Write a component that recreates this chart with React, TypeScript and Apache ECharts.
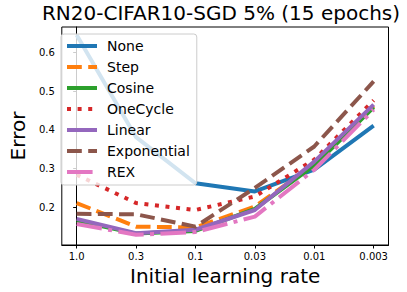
import React, { useEffect, useRef } from "react";
import * as echarts from "echarts";

const lrLabels = ["1.0", "0.3", "0.1", "0.03", "0.01", "0.003"];
const yTicks = [0.2, 0.3, 0.4, 0.5, 0.6];

const noneVals = [0.645, 0.381, 0.262, 0.241, 0.297, 0.411];
const stepVals = [0.211, 0.150, 0.148, 0.202, 0.310, 0.462];
const cosineVals = [0.165, 0.132, 0.139, 0.196, 0.308, 0.458];
const oneCycleVals = [0.284, 0.211, 0.193, 0.228, 0.323, 0.476];
const linearVals = [0.170, 0.133, 0.142, 0.193, 0.318, 0.465];
const exponentialVals = [0.183, 0.182, 0.150, 0.250, 0.357, 0.525];
const rexVals = [0.157, 0.129, 0.136, 0.176, 0.297, 0.452];

const seriesDefs = [
  { name: "None", data: noneVals, color: "#1f77b4", dash: "solid" as any },
  { name: "Step", data: stepVals, color: "#ff7f0e", dash: [14.8, 6.4] },
  { name: "Cosine", data: cosineVals, color: "#2ca02c", dash: "solid" as any },
  { name: "OneCycle", data: oneCycleVals, color: "#d62728", dash: [4, 6.6] },
  { name: "Linear", data: linearVals, color: "#9467bd", dash: "solid" as any },
  { name: "Exponential", data: exponentialVals, color: "#8c564b", dash: [14.8, 6.4] },
  { name: "REX", data: rexVals, color: "#e377c2", dash: [25.6, 6.4, 4, 6.4] },
];

const FONT = "DejaVu Sans";

export default function App() {
  const ref = useRef<HTMLDivElement>(null);
  useEffect(() => {
    document.body.style.margin = "0";
    if (!ref.current) return;
    const chart = echarts.init(ref.current, null, { renderer: "svg" });
    chart.setOption({
      animation: false,
      backgroundColor: "#ffffff",
      textStyle: { fontFamily: FONT },
      graphic: [
        {
          type: "text",
          x: 221,
          y: 3,
          style: {
            text: "RN20-CIFAR10-SGD 5% (15 epochs)",
            font: `20px "${FONT}"`,
            fill: "#000",
            textAlign: "center",
            textVerticalAlign: "top",
          },
        },
      ],
      grid: {
        left: 53,
        right: 18.5,
        top: 27,
        bottom: 47,
        show: true,
        borderColor: "#000",
        borderWidth: 1,
        backgroundColor: "transparent",
      },
      legend: {
        orient: "vertical",
        left: 61,
        top: 34,
        itemWidth: 30,
        itemHeight: 14,
        itemGap: 7,
        padding: [5, 7, 6, 4],
        backgroundColor: "rgba(255,255,255,0.8)",
        borderColor: "#cccccc",
        borderWidth: 1,
        borderRadius: 3,
        itemStyle: { opacity: 0 },
        lineStyle: { width: 4 },
        textStyle: { fontFamily: FONT, fontSize: 14, color: "#000", padding: [0, 0, 0, 5] },
        data: seriesDefs.map((s) => s.name),
      },
      xAxis: {
        type: "value",
        min: -0.25,
        max: 5.25,
        name: "Initial learning rate",
        nameLocation: "middle",
        nameGap: 20,
        nameTextStyle: { fontFamily: FONT, fontSize: 20, color: "#000" },
        axisLine: { show: true, lineStyle: { color: "#000", width: 1 } },
        axisTick: { show: true, length: 3.5, lineStyle: { color: "#000" }, customValues: [0, 1, 2, 3, 4, 5] },
        axisLabel: {
          fontFamily: FONT,
          fontSize: 10,
          color: "#000",
          margin: 6,
          customValues: [0, 1, 2, 3, 4, 5],
          formatter: (v: number) => lrLabels[Math.round(v)] ?? "",
        },
        splitLine: { show: false },
      },
      yAxis: {
        type: "value",
        min: 0.1026,
        max: 0.6656,
        name: "Error",
        nameLocation: "middle",
        nameGap: 28,
        nameTextStyle: { fontFamily: FONT, fontSize: 20, color: "#000" },
        axisLine: { show: true, lineStyle: { color: "#000", width: 1 } },
        axisTick: { show: true, length: 3.5, lineStyle: { color: "#000" }, customValues: yTicks },
        axisLabel: {
          fontFamily: FONT,
          fontSize: 10,
          color: "#000",
          margin: 7,
          customValues: yTicks,
          formatter: (v: number) => v.toFixed(1),
        },
        splitLine: { show: false },
      },
      series: seriesDefs.map((s) => ({
        name: s.name,
        type: "line",
        data: s.data.map((v, i) => [i, v]),
        symbol: "none",
        color: s.color,
        lineStyle: { color: s.color, width: 4, type: s.dash, cap: "butt", join: "round" },
      })),
    });
    return () => chart.dispose();
  }, []);
  return <div ref={ref} style={{ width: 407, height: 292 }} />;
}
